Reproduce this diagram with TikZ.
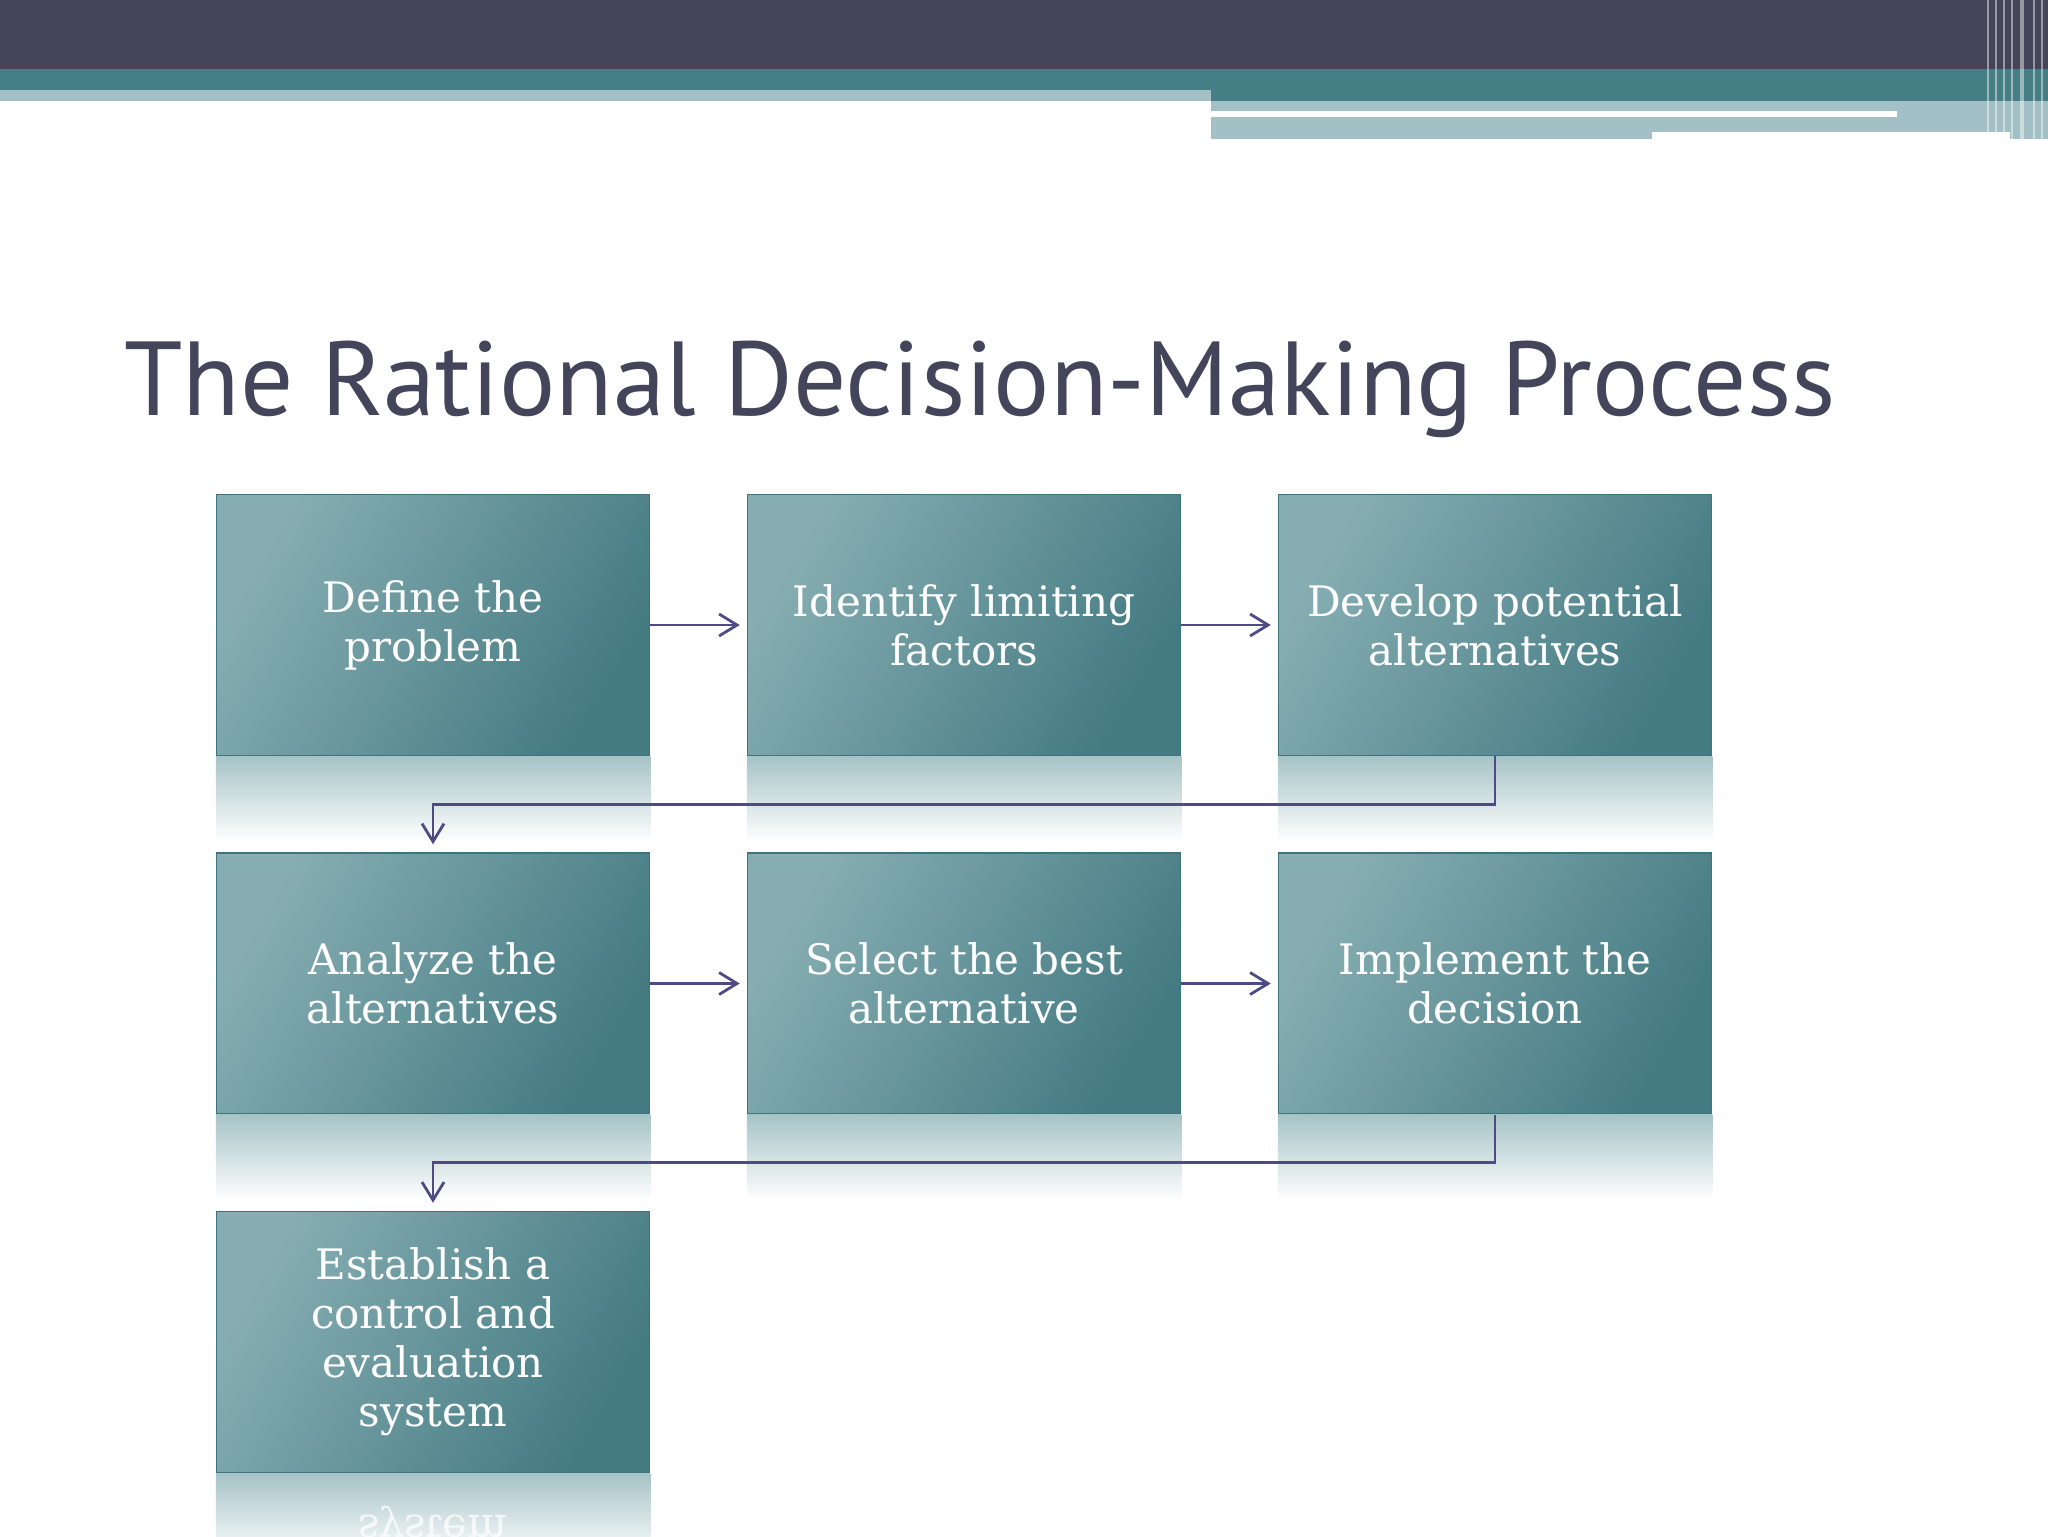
\documentclass[tikz,border=0pt]{standalone}
\usepackage{fontspec}
\setmainfont{DejaVu Serif}
\newfontfamily\titlefont{PT Sans}
\usetikzlibrary{arrows.meta}
\definecolor{barDark}{RGB}{69,68,89}
\definecolor{barTeal}{RGB}{70,126,133}
\definecolor{barLight}{RGB}{163,192,198}
\definecolor{titleGray}{RGB}{68,68,90}
\definecolor{boxLight}{RGB}{134,174,178}
\definecolor{boxDark}{RGB}{68,122,130}
\definecolor{boxEdge}{RGB}{62,117,124}
\definecolor{reflTop}{RGB}{166,195,198}
\definecolor{flowBlue}{RGB}{78,75,132}
\tikzset{
  stepbox/.style={rectangle, minimum width=216.5pt, minimum height=130.5pt, inner sep=0pt,
    draw=boxEdge, line width=0.75pt, top color=boxLight, bottom color=boxDark, shading angle=60,
    text=white, align=center, font=\fontsize{21pt}{24.5pt}\selectfont},
  reflection/.style={top color=reflTop, bottom color=white},
  flow/.style={draw=flowBlue, line width=1.4pt, -{Straight Barb[length=9pt,width=11pt]}},
  titletext/.style={text=titleGray, inner sep=0pt, font=\titlefont\fontsize{52.6pt}{60pt}\selectfont},
  stripe/.style={draw=white, opacity=0.45}
}
\begin{document}
\begin{tikzpicture}[x=0.5pt,y=-0.5pt]
\useasboundingbox (0,0) rectangle (2048,1536);
% header bars
\fill[barDark] (0,0) rectangle (2048,69);
\fill[barTeal] (0,69) rectangle (2048,101);
\fill[barLight] (0,90) rectangle (1211,101);
\fill[barLight] (1211,101) rectangle (2048,139);
\fill[white] (1211,111) rectangle (1897,117);
\fill[white] (1652,132) rectangle (2010,139);
\foreach \x/\w in {1988/0.8,1996/0.6,2004/1.2,2012/0.8,2022/1.6,2034/1,2042/0.6}
  \draw[stripe, line width=\w pt] (\x,0) -- (\x,139);

% title
\node[titletext, anchor=base west] (title) at (124,415) {The Rational Decision-Making Process};

% steps
\node[stepbox] (define) at (433,625) {Define the\\problem};
\node[stepbox] (limits) at (964,625) {Identify limiting\\factors};
\node[stepbox] (develop) at (1495,625) {Develop potential\\alternatives};
\node[stepbox] (analyze) at (433,983.5) {Analyze the\\alternatives};
\node[stepbox] (select) at (964,983.5) {Select the best\\alternative};
\node[stepbox] (implement) at (1495,983.5) {Implement the\\decision};
\node[stepbox] (control) at (433,1342) {Establish a\\control and\\evaluation\\system};

% reflections
\foreach \n in {define,limits,develop,analyze,select,implement,control}
  \shade[reflection] (\n.south west) rectangle ([yshift=-42.5pt]\n.south east);
\begin{scope}
  \clip (control.south west) rectangle ([yshift=-42.5pt]control.south east);
  \node[text=white, opacity=0.75, font=\fontsize{21pt}{24.5pt}\selectfont, inner sep=0pt,
    anchor=base, yscale=-1, transform shape] (mirror) at ([yshift=-21pt]control.south) {system};
\end{scope}

% connectors
\draw[flow] (define.east) -- ([xshift=-3.5pt]limits.west);
\draw[flow] (limits.east) -- ([xshift=-3.5pt]develop.west);
\draw[flow] (develop.south) -- ++(0,48) -| ([yshift=4pt]analyze.north);
\draw[flow] (analyze.east) -- ([xshift=-3.5pt]select.west);
\draw[flow] (select.east) -- ([xshift=-3.5pt]implement.west);
\draw[flow] (implement.south) -- ++(0,48) -| ([yshift=4pt]control.north);
\end{tikzpicture}
\end{document}
